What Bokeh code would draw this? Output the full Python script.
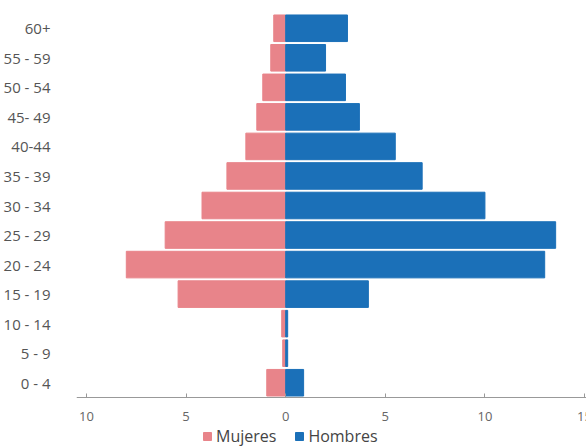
from bokeh.plotting import figure
from bokeh.models import ColumnDataSource, Legend, LegendItem, FixedTicker, Range1d
from bokeh.embed import file_html
from bokeh.resources import INLINE

ages = ["0 - 4", "5 - 9", "10 - 14", "15 - 19", "20 - 24", "25 - 29", "30 - 34",
        "35 - 39", "40-44", "45- 49", "50 - 54", "55 - 59", "60+"]
mujeres = [0.95, 0.15, 0.2, 5.4, 8.0, 6.05, 4.2, 2.95, 2.0, 1.45, 1.15, 0.75, 0.6]
hombres = [0.9, 0.1, 0.1, 4.15, 13.0, 13.55, 10.0, 6.85, 5.5, 3.7, 3.0, 2.0, 3.1]
x_ticks = [-10, -5, 0, 5, 10, 15]
x_tick_labels = ["10", "5", "0", "5", "10", "15"]

ypos = list(range(len(ages)))
src = ColumnDataSource(dict(
    y=ypos,
    m_left=[-v for v in mujeres],
    zero=[0] * len(ages),
    h_right=hombres,
))

# rows fill 384px; extra space below the axis holds the legend
p = figure(frame_width=518, frame_height=435, x_range=(-10.5, 15.5),
           y_range=Range1d(-0.5 - 51 / (384 / len(ages)), len(ages) - 0.5),
           output_backend="svg", toolbar_location=None,
           min_border_left=66, min_border_right=2, min_border_top=13, min_border_bottom=0)
p.outline_line_color = None
p.xgrid.visible = False
p.ygrid.visible = False

pink = "#e8848a"
blue = "#1b70b8"
r1 = p.hbar(y="y", left="m_left", right="zero", height=0.9, color=pink, source=src)
r2 = p.hbar(y="y", left="zero", right="h_right", height=0.9, color=blue, source=src)

xa = p.xaxis[0]
xa.fixed_location = -0.5
xa.ticker = FixedTicker(ticks=x_ticks)
xa.major_label_overrides = {t: l for t, l in zip(x_ticks, x_tick_labels)}
xa.axis_line_color = "#999999"
xa.major_tick_line_color = "#999999"
xa.major_tick_in = 4
xa.major_tick_out = 0
xa.minor_tick_line_color = None
xa.major_label_text_color = "#666666"
xa.major_label_text_font = "Open Sans"
xa.major_label_text_font_size = "13px"
xa.major_label_standoff = 14

ya = p.yaxis[0]
ya.ticker = FixedTicker(ticks=ypos)
ya.major_label_overrides = {i: a for i, a in zip(ypos, ages)}
ya.axis_line_color = None
ya.major_tick_line_color = None
ya.minor_tick_line_color = None
ya.major_label_text_color = "#555555"
ya.major_label_text_font = "Open Sans"
ya.major_label_text_font_size = "15px"
ya.major_label_standoff = 20

legend = Legend(items=[LegendItem(label="Mujeres", renderers=[r1]),
                       LegendItem(label="Hombres", renderers=[r2])],
                orientation="horizontal", location=(126, 1))
legend.label_text_font = "Open Sans"
legend.label_text_font_size = "16px"
legend.label_text_color = "#444444"
legend.border_line_color = None
legend.background_fill_alpha = 0
legend.glyph_width = 10
legend.glyph_height = 10
legend.label_height = 18
legend.label_standoff = 4
legend.spacing = 18
legend.padding = 0
legend.margin = 0
p.add_layout(legend, "center")

open("out.html", "w").write(file_html(p, INLINE))
